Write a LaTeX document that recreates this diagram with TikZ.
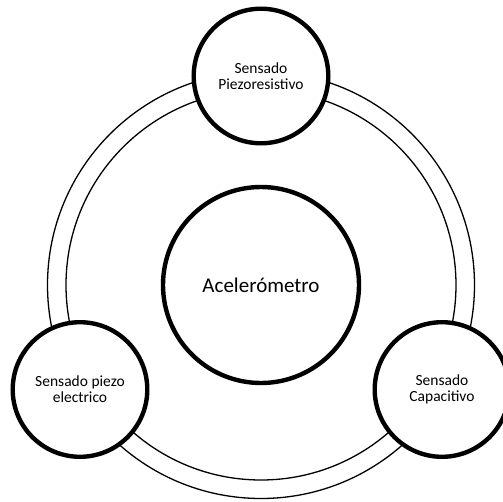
\documentclass[tikz,border=0pt]{standalone}
\usepackage{fontspec}
\setmainfont{Carlito}
\tikzset{
  sensor/.style={circle, draw, line width=4.4pt, fill=white, minimum size=134.6pt,
    inner sep=0pt, align=center, font=\fontsize{15.5}{16}\selectfont},
  core/.style={circle, draw, line width=4.4pt, fill=white, minimum size=196pt,
    inner sep=0pt, font=\fontsize{21}{25}\selectfont},
  ring/.style={line width=1.3pt}
}
\begin{document}
\begin{tikzpicture}[x=1pt,y=1pt]
  \clip (-261,-216) rectangle (242,285);
  \node[core] (acel) at (0,0) {Acelerómetro};
  % double ring behind the sensing nodes
  \draw[ring] (acel.center) circle (213.5pt);
  \draw[ring] (acel.center) circle (195pt);
  \node[sensor] (piezores) at (90:209pt) {Sensado\\Piezoresistivo};
  \node[sensor] (piezoel) at (210:209pt) {Sensado piezo\\electrico};
  \node[sensor] (capac) at (330:209pt) {Sensado\\Capacitivo};
\end{tikzpicture}
\end{document}
